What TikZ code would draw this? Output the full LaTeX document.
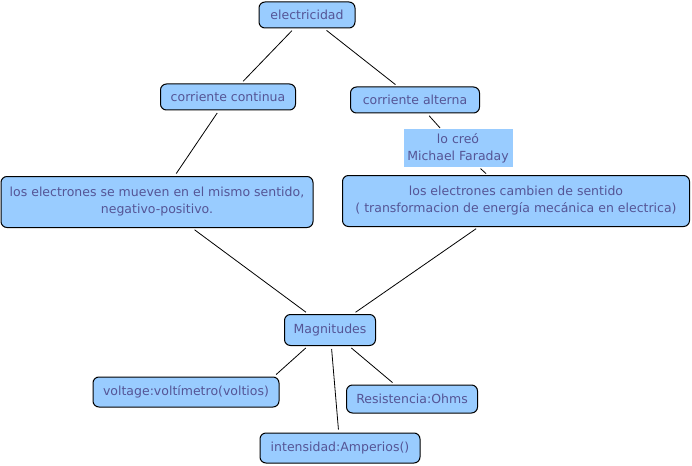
\documentclass[tikz,border=0pt]{standalone}
\usepackage{fontspec}
\setmainfont{DejaVu Sans}
\definecolor{cmapfill}{RGB}{153,204,255}
\definecolor{cmaptext}{RGB}{85,85,150}
\tikzstyle{concept}=[fill=cmapfill,draw=black,rounded corners=6pt,line width=1pt,text=cmaptext,font=\fontsize{12.5}{17}\selectfont,align=center,inner xsep=3pt,minimum height=26pt]
\tikzstyle{linkphrase}=[fill=cmapfill,text=cmaptext,font=\fontsize{12.5}{17}\selectfont,align=center,inner sep=1pt]
\tikzstyle{link}=[line width=0.8pt,shorten <=3pt,shorten >=3pt]

\begin{document}
\begin{tikzpicture}[x=1pt, y=-1pt]
	\useasboundingbox (0,0) rectangle (692,465);
	\node[concept, minimum width=96pt] (elec) at (307,15) {electricidad};
	\node[concept, minimum width=135pt] (cc) at (228,97) {corriente continua};
	\node[concept, minimum width=129pt] (ca) at (415,100) {corriente alterna};
	\node[linkphrase, minimum width=109pt, minimum height=38pt] (creo) at (458,148) {lo creó\\Michael Faraday};
	\node[concept, minimum width=312pt, minimum height=51pt] (mismo) at (157,202)
		{los electrones se mueven en el mismo sentido,\\negativo-positivo.};
	\node[concept, minimum width=347pt, minimum height=51pt] (cambio) at (516,201)
		{los electrones cambien de sentido\\( transformacion de energía mecánica en electrica)};
	\node[concept, minimum width=91pt, minimum height=31pt] (mag) at (330,330) {Magnitudes};
	\node[concept, minimum width=186pt, minimum height=30pt] (volt) at (186,392) {voltage:voltímetro(voltios)};
	\node[concept, minimum width=131pt, minimum height=28pt] (res) at (412,399) {Resistencia:Ohms};
	\node[concept, minimum width=160pt, minimum height=30pt] (int) at (340,448) {intensidad:Amperios()};

	\draw[link] (elec) -- (cc);
	\draw[link] (elec) -- (ca);
	\draw[link] (cc) -- (mismo);
	\draw[link, shorten >=1pt] (ca) -- (creo);
	\draw[link, shorten <=2pt, shorten >=2pt] (creo) -- (cambio);
	\draw[link] (mismo) -- (mag);
	\draw[link] (cambio) -- (mag);
	\draw[link] (mag.216) -- (volt.10);
	\draw[link] (mag) -- (int);
	\draw[link] (mag) -- (res);
\end{tikzpicture}
\end{document}
